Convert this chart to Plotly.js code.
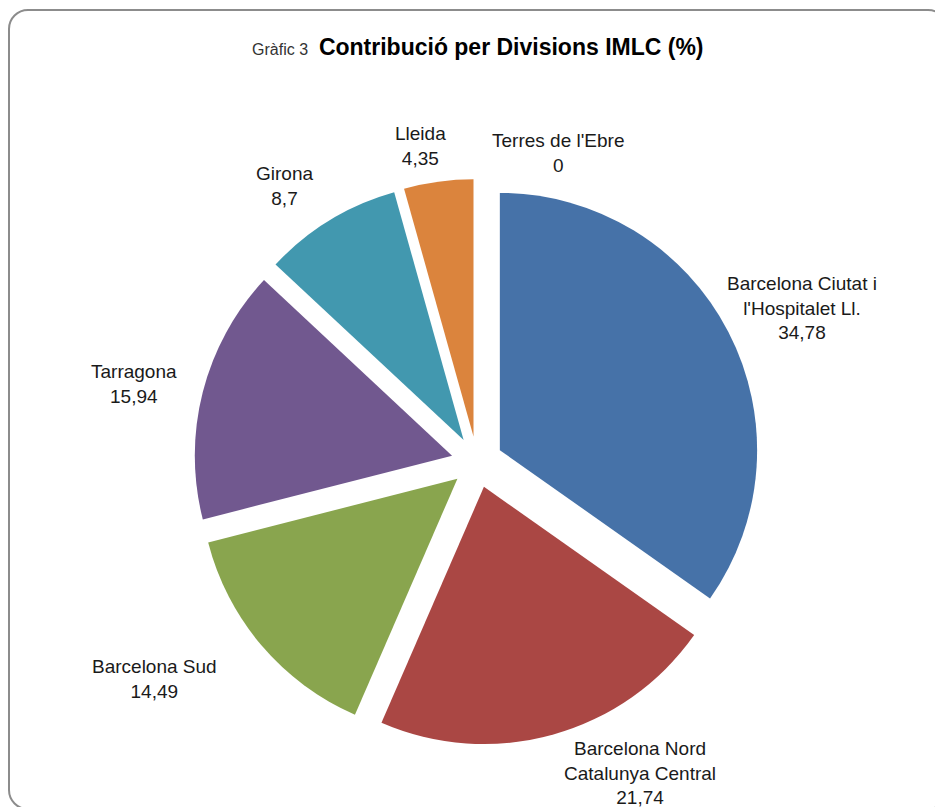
<!DOCTYPE html>
<html>
<head>
<meta charset="utf-8">
<script src="https://cdn.plot.ly/plotly-3.0.1.min.js"></script>
<style>
  html, body { margin: 0; padding: 0; background: #ffffff; overflow: hidden; }
  #frame { position: absolute; left: 8px; top: 9px; width: 940px; height: 801px;
           border: 2px solid #8c8c8c; border-radius: 20px; box-sizing: border-box; }
  #chart { position: absolute; left: 0; top: 0; width: 935px; height: 807px; }
</style>
</head>
<body>
<div id="frame"></div>
<div id="chart"></div>
<script>
// Data
const categories = [
  "Barcelona Ciutat i<br>l'Hospitalet Ll.",
  "Barcelona Nord<br>Catalunya Central",
  "Barcelona Sud",
  "Tarragona",
  "Girona",
  "Lleida",
  "Terres de l'Ebre"
];
const values = [34.78, 21.74, 14.49, 15.94, 8.7, 4.35, 0];
const colors = ["#4672A8", "#AA4744", "#89A54E", "#71588F", "#4298AF", "#DB843D", "#93A9CF"];

// Label placement (layout, pixel positions of label block centres)
const W = 935, H = 807;
const labelPos = [[802, 308], [640, 773], [154, 679], [134, 384], [284, 186], [420, 146], [558, 153]];

const fmt = v => String(v).replace('.', ',');

const trace = {
  type: 'pie',
  labels: categories,
  values: values,
  sort: false,
  direction: 'clockwise',
  rotation: 0,
  pull: values.map(() => 0.1),
  marker: { colors: colors, line: { width: 0 } },
  textinfo: 'none',
  hoverinfo: 'label+value',
  showlegend: false,
  domain: { x: [(477 - 283) / W, (477 + 283) / W], y: [(H - 462 - 283) / H, (H - 462 + 283) / H] }
};

const annotations = categories.map((c, i) => ({
  text: c + '<br>' + fmt(values[i]),
  xref: 'paper', yref: 'paper',
  x: labelPos[i][0] / W, y: 1 - labelPos[i][1] / H,
  xanchor: 'center', yanchor: 'middle',
  showarrow: false, align: 'center',
  font: { family: 'Liberation Sans, Arial, sans-serif', size: 19, color: '#1a1a1a' }
}));

const layout = {
  width: W, height: H,
  margin: { l: 0, r: 0, t: 0, b: 0 },
  paper_bgcolor: 'rgba(0,0,0,0)',
  plot_bgcolor: 'rgba(0,0,0,0)',
  title: {
    text: "<span style='font-size:16px;font-weight:normal;color:#333'>Gràfic 3 </span> <b>Contribució per Divisions IMLC (%)</b>",
    x: 0.511, xanchor: 'center', y: 1 - 47 / H, yanchor: 'middle', yref: 'paper',
    font: { family: 'Liberation Sans, Arial, sans-serif', size: 23, color: '#000000' }
  },
  annotations: annotations
};

Plotly.newPlot('chart', [trace], layout, { displayModeBar: false, staticPlot: true });
</script>
</body>
</html>
